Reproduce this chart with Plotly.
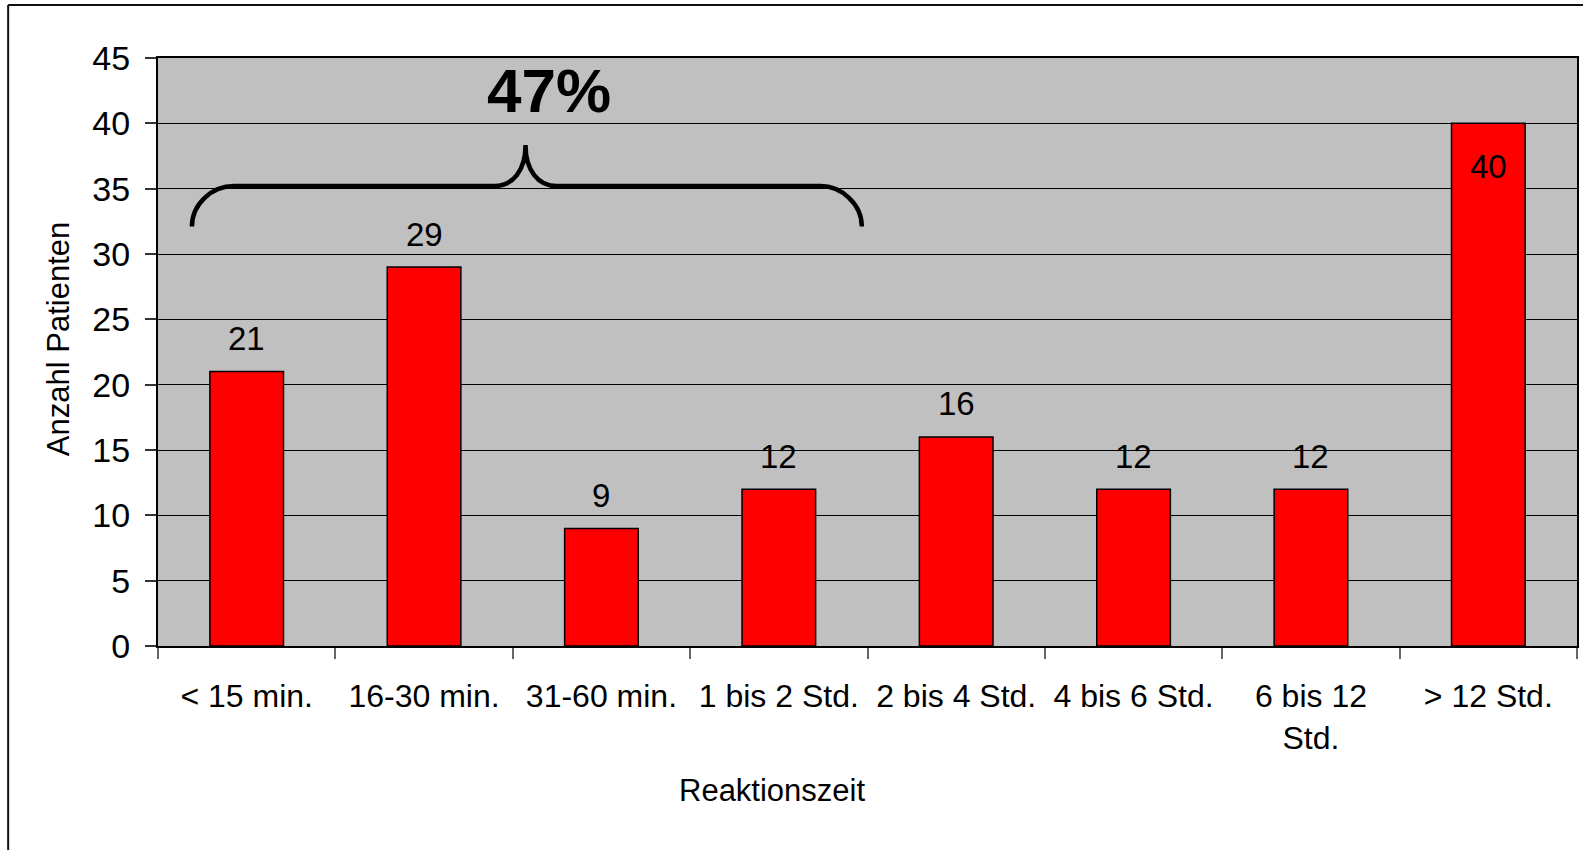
import plotly.graph_objects as go

categories = ["< 15 min.", "16-30 min.", "31-60 min.", "1 bis 2 Std.", "2 bis 4 Std.",
              "4 bis 6 Std.", "6 bis 12<br>Std.", "> 12 Std."]
patients = [21, 29, 9, 12, 16, 12, 12, 40]
y_ticks = [0, 5, 10, 15, 20, 25, 30, 35, 40, 45]
bracket_count = 4  # first four categories are grouped by the bracket

share = round(100 * sum(patients[:bracket_count]) / sum(patients))

FONT = "Liberation Sans, Arial, sans-serif"
W, H = 1583, 850
ML, MR, MT, MB = 158, 4, 58, 204

fig = go.Figure()
fig.add_trace(go.Bar(
    x=categories, y=patients,
    marker=dict(color="#FF0000", line=dict(color="#000000", width=1.5)),
    hoverinfo="x+y",
))

annotations = []
for c, v in zip(categories, patients):
    inside = v >= 40
    annotations.append(dict(
        x=c, y=v, xref="x", yref="y", text=str(v), showarrow=False,
        yanchor="middle", yshift=-43 if inside else 33,
        font=dict(family=FONT, size=33, color="black"),
    ))

# percentage above the bracket
annotations.append(dict(
    x=0.2752, y=0.944, xref="paper", yref="paper", text=f"<b>{share}%</b>",
    showarrow=False, xanchor="center", yanchor="middle",
    font=dict(family=FONT, size=62, color="black"),
))
# axis titles
annotations.append(dict(
    x=-0.0704, y=0.522, xref="paper", yref="paper", text="Anzahl Patienten",
    textangle=-90, showarrow=False, xanchor="center", yanchor="middle",
    font=dict(family=FONT, size=31, color="black"),
))
annotations.append(dict(
    x=0.4328, y=-0.2449, xref="paper", yref="paper", text="Reaktionszeit",
    showarrow=False, xanchor="center", yanchor="middle",
    font=dict(family=FONT, size=31, color="black"),
))

bracket_path = ("M 0.0239,32.1 C 0.0239,33.83 0.038,35.2 0.0535,35.2 "
                "L 0.237,35.2 C 0.250,35.2 0.259,36.4 0.259,38.35 "
                "C 0.259,36.4 0.268,35.2 0.281,35.2 "
                "L 0.467,35.2 C 0.4815,35.2 0.496,33.83 0.496,32.1")

shapes = [
    dict(type="path", path=bracket_path, xref="x domain", yref="y",
         line=dict(color="black", width=4.5)),
    # outer chart frame (top and left edges visible)
    dict(type="line", xref="paper", yref="paper", x0=-0.1056, x1=1.01, y0=1.0901, y1=1.0901,
         line=dict(color="#111111", width=2)),
    dict(type="line", xref="paper", yref="paper", x0=-0.1056, x1=-0.1056, y0=1.0901, y1=-0.36,
         line=dict(color="#111111", width=2)),
]

fig.update_layout(
    width=W, height=H,
    margin=dict(l=ML, r=MR, t=MT, b=MB),
    paper_bgcolor="white", plot_bgcolor="#C0C0C0",
    bargap=0.585, showlegend=False,
    font=dict(family=FONT, size=32, color="black"),
    annotations=annotations, shapes=shapes,
)
fig.update_xaxes(
    type="category", tickson="boundaries", ticks="outside", ticklen=11,
    tickcolor="#666666", tickwidth=1.5, showline=True, linecolor="black", linewidth=2,
    mirror=True, tickfont=dict(family=FONT, size=32, color="black"),
    ticklabelstandoff=21,
)
fig.update_yaxes(
    range=[0, 45], tickvals=y_ticks, ticks="outside", ticklen=11, tickcolor="#333333",
    tickwidth=1.5, showline=True, linecolor="black", linewidth=2, mirror=True,
    showgrid=True, gridcolor="black", gridwidth=1, zeroline=False,
    tickfont=dict(family=FONT, size=34, color="black"), ticklabelstandoff=8,
)

fig.write_html("out.html", config={"displayModeBar": False},
               post_script="document.body.style.margin='0';")
